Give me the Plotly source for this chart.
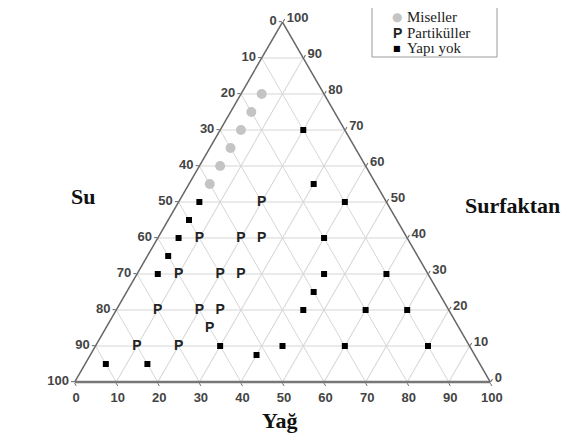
import plotly.graph_objects as go

# ---- data (Surfaktan, Su, Yağ in %) ----
mis_surf = [80, 75, 70, 65, 60, 55]
mis_su = [15, 20, 25, 30, 35, 40]
mis_yag = [5, 5, 5, 5, 5, 5]

part_surf = [50, 40, 40, 40, 30, 30, 30, 20, 20, 20, 15, 10, 10]
part_su = [30, 50, 40, 35, 60, 50, 45, 70, 60, 55, 60, 80, 70]
part_yag = [20, 10, 20, 25, 10, 20, 25, 10, 20, 25, 25, 10, 20]

yok_surf = [50, 45, 40, 35, 30, 5, 5, 10, 20, 10, 7.5, 10, 70, 55, 50, 40, 30, 30, 25, 20, 20, 10]
yok_su = [45, 50, 55, 60, 65, 90, 80, 60, 35, 45, 52.5, 30, 10, 15, 10, 20, 25, 10, 30, 20, 10, 10]
yok_yag = [5, 5, 5, 5, 5, 5, 15, 30, 45, 45, 40, 60, 20, 30, 40, 40, 45, 60, 45, 60, 70, 80]

tick_vals = [0, 10, 20, 30, 40, 50, 60, 70, 80, 90, 100]
tick_text = [str(100 - v) for v in tick_vals]

legend_names = ["Miseller", "Partiküller", "Yapı yok"]

# page body has an 8px margin: work in screen pixels and convert
OFF = 8
W, H = 576 - OFF, 441 - OFF


def px(x):
    return (x - OFF) / W


def py(y):
    return 1 - (y - OFF) / H


fig = go.Figure()
fig.add_trace(go.Scatterternary(
    a=mis_surf, b=mis_su, c=mis_yag, mode="markers", name=legend_names[0],
    marker=dict(symbol="circle", size=10, color="#c4c4c4"), cliponaxis=False))
fig.add_trace(go.Scatterternary(
    a=part_surf, b=part_su, c=part_yag, mode="text", name=legend_names[1],
    text=["P"] * len(part_surf), textposition="middle center",
    textfont=dict(family="Liberation Sans", size=14, color="#222222", weight="bold"),
    cliponaxis=False))
fig.add_trace(go.Scatterternary(
    a=yok_surf, b=yok_su, c=yok_yag, mode="markers", name=legend_names[2],
    marker=dict(symbol="square", size=6, color="black"), cliponaxis=False))

axis_common = dict(
    tickmode="array", tickvals=tick_vals, ticktext=tick_text,
    showgrid=True, gridcolor="#d6d6d6", gridwidth=1,
    showline=True, linecolor="#666666", linewidth=1.5,
    ticks="outside", ticklen=3, tickcolor="#666666",
    tickfont=dict(family="Liberation Sans", size=13, color="#444444", weight="bold"),
    title=dict(text=""),
)

top_s, bot_s = 22, 382          # screen pixels of apex / base
cx_s = 282.5
tri_h = bot_s - top_s
tri_w = tri_h * 2 / 3 ** 0.5

fig.update_layout(
    width=W, height=H,
    margin=dict(l=0, r=0, t=0, b=0),
    paper_bgcolor="white",
    showlegend=False,
    ternary=dict(
        sum=100,
        bgcolor="white",
        domain=dict(x=[px(cx_s - tri_w / 2), px(cx_s + tri_w / 2)],
                    y=[py(bot_s), py(top_s)]),
        aaxis=axis_common,
        baxis={**axis_common, "linewidth": 2.5, "linecolor": "#777777"},
        caxis=axis_common,
    ),
)


def note(text, x, y, font, xanchor="center"):
    fig.add_annotation(text=text, x=px(x), y=py(y), xref="paper", yref="paper",
                       xanchor=xanchor, yanchor="middle", showarrow=False, font=font)


title_font = dict(family="Liberation Serif", size=22, color="#111111", weight="bold")
note("Su", 83, 197, title_font)
note("Surfaktan", 463, 205, title_font, xanchor="left")
note("Yağ", 279, 420, title_font)

# legend box
fig.add_shape(type="rect", xref="paper", yref="paper",
              x0=px(372), x1=px(497), y0=py(57), y1=py(5),
              line=dict(color="#9a9a9a", width=1), fillcolor="white")
leg_font = dict(family="Liberation Serif", size=15, color="#222222")
leg_y = [17, 33, 48]
leg_marks = ["●", "<b>P</b>", "■"]
leg_mark_fonts = [dict(family="DejaVu Sans", size=12, color="#c4c4c4"),
                  dict(family="Liberation Sans", size=14, color="#222222"),
                  dict(family="DejaVu Sans", size=8, color="black")]
for yy, mk, mf, nm in zip(leg_y, leg_marks, leg_mark_fonts, legend_names):
    note(mk, 397, yy, mf)
    note(nm, 405, yy, leg_font, xanchor="left")

fig.write_html("out.html")
